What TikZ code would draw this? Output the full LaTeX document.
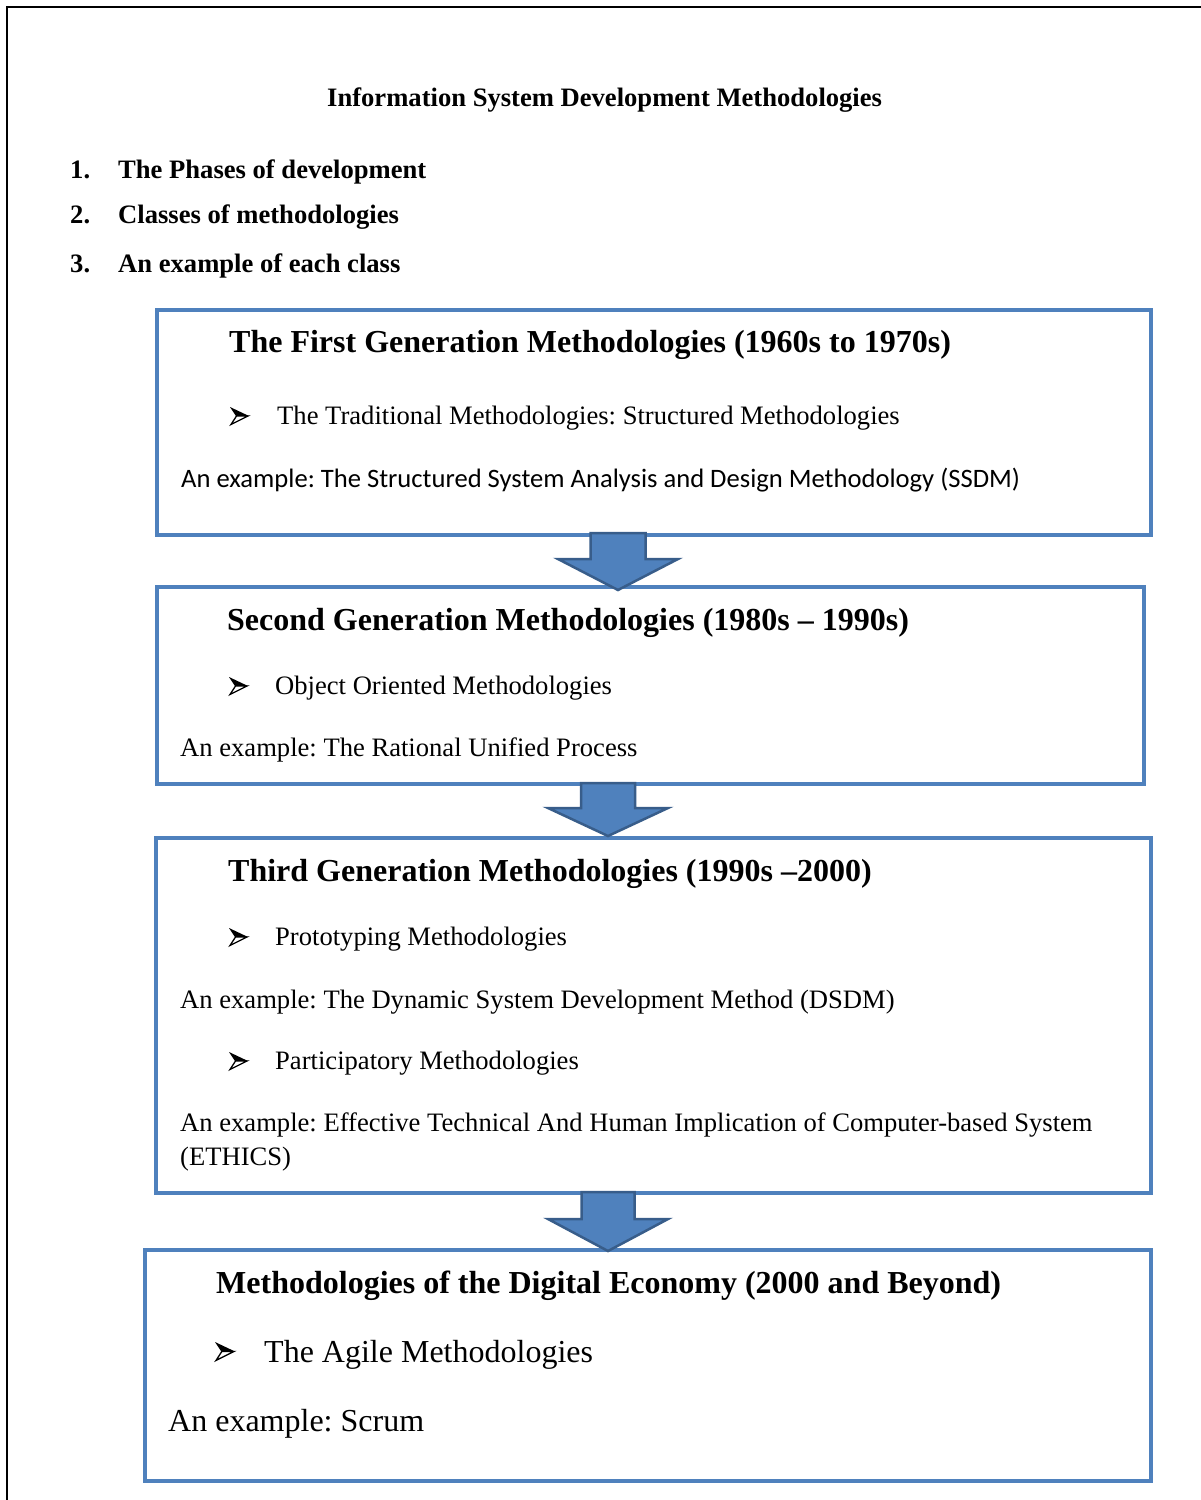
\documentclass[tikz,border=0pt]{standalone}
\usepackage{fontspec}
\setmainfont{Liberation Serif}
\newfontfamily\calibrifont{Carlito}
\definecolor{boxblue}{RGB}{79,129,189}
\definecolor{arrowedge}{RGB}{56,93,138}
\frenchspacing

\begin{document}
\begin{tikzpicture}[x=1pt,y=-1pt,
  frame/.style={draw=boxblue,line width=4pt,inner sep=0pt,outer sep=0pt,anchor=north west,line join=miter},
  heading/.style={anchor=base west,inner sep=0pt,font=\fontsize{32}{38}\selectfont\bfseries},
  bodytext/.style={anchor=base west,inner sep=0pt,font=\fontsize{26.6}{32}\selectfont},
  largetext/.style={anchor=base west,inner sep=0pt,font=\fontsize{32}{38}\selectfont},
  listtext/.style={anchor=base west,inner sep=0pt,font=\fontsize{26.6}{32}\selectfont\bfseries},
  blockarrow/.style={fill=boxblue,draw=arrowedge,line width=2.5pt,line join=miter},
  bulletmark/.pic={
    \fill[black] (0,0) -- (19,9) -- (6,9) -- cycle;
    \filldraw[fill=white,draw=black,line width=1.3pt,line join=miter] (6.5,9) -- (18,9) -- (1,17.5) -- cycle;
  }
]
\useasboundingbox (0,0) rectangle (1201,1500);
\fill[white] (0,0) rectangle (1201,1500);

% page frame
\draw[line width=2.5pt] (7,1500) -- (7,7) -- (1201,7);

% title and outline list
\node[listtext] (title) at (327,106) {Information System Development Methodologies};
\node[listtext] (n1) at (70,178) {1.};
\node[listtext] (l1) at (118,178) {The Phases of development};
\node[listtext] (n2) at (70,223) {2.};
\node[listtext] (l2) at (118,223) {Classes of methodologies};
\node[listtext] (n3) at (70,272) {3.};
\node[listtext] (l3) at (118,272) {An example of each class};

% generation boxes
\node[frame,minimum width=994pt,minimum height=225pt] (b1) at (157,310) {};
\node[frame,minimum width=987pt,minimum height=197pt] (b2) at (157,587) {};
\node[frame,minimum width=995pt,minimum height=355pt] (b3) at (156,838) {};
\node[frame,minimum width=1006pt,minimum height=231pt] (b4) at (145,1250) {};

% block arrows between the boxes
\coordinate (a1) at (618,533);
\coordinate (a2) at (608,783);
\coordinate (a3) at (608,1192);
\draw[blockarrow] (a1) ++(-27.5,0) -- ++(55,0) -- ++(0,26) -- ++(32.5,0) -- ++(-60,31) -- ++(-60,-31) -- ++(32.5,0) -- cycle;
\draw[blockarrow] (a2) ++(-27,0) -- ++(54,0) -- ++(0,25) -- ++(33,0) -- ++(-60,28) -- ++(-60,-28) -- ++(33,0) -- cycle;
\draw[blockarrow] (a3) ++(-26.5,0) -- ++(53,0) -- ++(0,27) -- ++(33.5,0) -- ++(-60,32) -- ++(-60,-32) -- ++(33.5,0) -- cycle;

% box 1
\node[heading] (h1) at (229,352) {The First Generation Methodologies (1960s to 1970s)};
\pic at (230,407) {bulletmark};
\node[bodytext] (t1) at (277,424) {The Traditional Methodologies: Structured Methodologies};
\node[bodytext,font=\fontsize{26.6}{32}\selectfont\calibrifont] (e1) at (181,487) {An example: The Structured System Analysis and Design Methodology (SSDM)};

% box 2
\node[heading] (h2) at (227,630) {Second Generation Methodologies (1980s – 1990s)};
\pic at (229,677) {bulletmark};
\node[bodytext] (t2) at (275,694) {Object Oriented Methodologies};
\node[bodytext] (e2) at (180,756) {An example: The Rational Unified Process};

% box 3
\node[heading] (h3) at (228,881) {Third Generation Methodologies (1990s –2000)};
\pic at (229,928) {bulletmark};
\node[bodytext] (t3) at (275,945) {Prototyping Methodologies};
\node[bodytext] (e3) at (180,1008) {An example: The Dynamic System Development Method (DSDM)};
\pic at (229,1052) {bulletmark};
\node[bodytext] (t4) at (275,1069) {Participatory Methodologies};
\node[bodytext] (e4) at (180,1131) {An example: Effective Technical And Human Implication of Computer-based System};
\node[bodytext] (e5) at (180,1165) {(ETHICS)};

% box 4
\node[heading] (h4) at (216,1293) {Methodologies of the Digital Economy (2000 and Beyond)};
\pic[scale=1.05] at (215,1342) {bulletmark};
\node[largetext] (t5) at (264,1362) {The Agile Methodologies};
\node[largetext] (e6) at (168,1431) {An example: Scrum};
\end{tikzpicture}
\end{document}
